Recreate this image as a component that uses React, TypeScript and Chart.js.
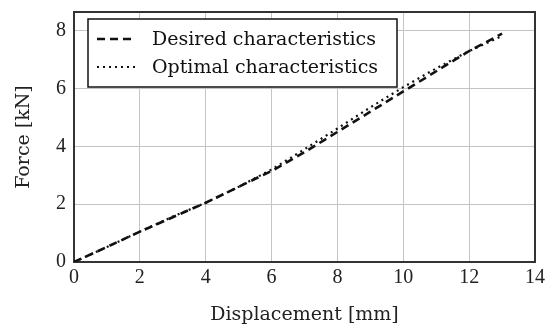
import React, { useEffect, useRef } from 'react';
import { Chart, registerables } from 'chart.js';

Chart.register(...registerables);

const displacement = [0, 1, 2, 3, 4, 5, 6, 7, 8, 9, 10, 11, 12, 13];
const desired = [0, 0.52, 1.05, 1.55, 2.05, 2.6, 3.15, 3.8, 4.5, 5.2, 5.9, 6.6, 7.3, 7.9];
const optimal = [0, 0.52, 1.05, 1.57, 2.05, 2.6, 3.2, 3.9, 4.62, 5.35, 6.05, 6.7, 7.3, 7.82];
const seriesNames = ['Desired characteristics', 'Optimal characteristics'];
const xTitle = 'Displacement [mm]';
const yTitle = 'Force [kN]';
const xTickValues = [0, 2, 4, 6, 8, 10, 12, 14];
const yTickValues = [0, 2, 4, 6, 8];
const xRange = [0, 14];
const yRange = [0, 8.65];

const SERIF = "'DejaVu Serif', serif";
const TICKFONT = "'Liberation Serif', serif";

const frameAndLegend = {
  id: 'frameAndLegend',
  beforeDatasetsDraw(chart: any) {
    const { ctx, chartArea } = chart;
    ctx.save();
    ctx.strokeStyle = '#333';
    ctx.lineWidth = 2;
    ctx.beginPath();
    ctx.moveTo(chartArea.left, chartArea.top);
    ctx.lineTo(chartArea.right, chartArea.top);
    ctx.lineTo(chartArea.right, chartArea.bottom);
    ctx.stroke();
    ctx.restore();
  },
  afterDraw(chart: any) {
    const { ctx, chartArea } = chart;
    const bx = chartArea.left + 14;
    const by = chartArea.top + 7;
    const bw = 309;
    const bh = 68;
    ctx.save();
    ctx.fillStyle = '#fff';
    ctx.fillRect(bx, by, bw, bh);
    ctx.strokeStyle = '#111';
    ctx.lineWidth = 1.5;
    ctx.strokeRect(bx, by, bw, bh);
    const rows = [by + 20, by + 48];
    chart.data.datasets.forEach((ds: any, i: number) => {
      const y = rows[i];
      ctx.strokeStyle = ds.borderColor;
      ctx.lineWidth = ds.borderWidth;
      ctx.setLineDash(ds.borderDash || []);
      ctx.beginPath();
      ctx.moveTo(bx + 9, y);
      ctx.lineTo(bx + 48, y);
      ctx.stroke();
      ctx.setLineDash([]);
      ctx.fillStyle = '#111';
      ctx.font = `19px ${SERIF}`;
      ctx.textBaseline = 'middle';
      ctx.textAlign = 'left';
      ctx.fillText(ds.label, bx + 64, y + 1);
    });
    ctx.restore();
  },
};

export default function App() {
  const ref = useRef<HTMLCanvasElement>(null);
  useEffect(() => {
    if (!ref.current) return;
    const chart = new Chart(ref.current, {
      type: 'line',
      data: {
        datasets: [
          {
            label: seriesNames[0],
            data: displacement.map((x, i) => ({ x, y: desired[i] })),
            borderColor: '#111',
            borderWidth: 2.6,
            borderDash: [8, 5],
            pointRadius: 0,
            tension: 0,
            fill: false,
          },
          {
            label: seriesNames[1],
            data: displacement.map((x, i) => ({ x, y: optimal[i] })),
            borderColor: '#111',
            borderWidth: 2.2,
            borderDash: [2, 4],
            pointRadius: 0,
            tension: 0,
            fill: false,
          },
        ],
      },
      options: {
        animation: false,
        responsive: false,
        devicePixelRatio: 1,
        layout: { padding: { top: 12, right: 12, left: 0, bottom: 0 } },
        plugins: { legend: { display: false }, tooltip: { enabled: false } },
        scales: {
          x: {
            type: 'linear',
            min: xRange[0],
            max: xRange[1],
            afterBuildTicks: (s: any) => {
              s.ticks = xTickValues.map((v) => ({ value: v }));
            },
            ticks: {
              color: '#222',
              font: { family: TICKFONT, size: 20 },
              padding: 4,
              maxRotation: 0,
            },
            grid: { color: '#c4c4c4', lineWidth: 1, drawTicks: false },
            border: { display: true, color: '#333', width: 2 },
            title: {
              display: true,
              text: xTitle,
              color: '#222',
              font: { family: SERIF, size: 19 },
              padding: { top: 0, bottom: 5 },
            },
            afterFit: (s: any) => {
              s.height = 69;
              s.paddingLeft = 0;
              s.paddingRight = 0;
            },
          },
          y: {
            type: 'linear',
            min: yRange[0],
            max: yRange[1],
            afterBuildTicks: (s: any) => {
              s.ticks = yTickValues.map((v) => ({ value: v }));
            },
            ticks: {
              color: '#222',
              font: { family: TICKFONT, size: 20 },
              padding: 8,
            },
            grid: { color: '#c4c4c4', lineWidth: 1, drawTicks: false },
            border: { display: true, color: '#333', width: 2 },
            title: {
              display: true,
              text: yTitle,
              color: '#222',
              font: { family: SERIF, size: 19 },
              padding: { top: 13, bottom: 0 },
            },
            afterFit: (s: any) => {
              s.width = 74;
              s.paddingTop = 0;
              s.paddingBottom = 0;
            },
          },
        },
      },
      plugins: [frameAndLegend],
    });
    return () => chart.destroy();
  }, []);
  return (
    <div style={{ position: 'absolute', left: 0, top: 0, width: 547, height: 331, background: '#fff' }}>
      <canvas ref={ref} width={547} height={331} />
    </div>
  );
}
